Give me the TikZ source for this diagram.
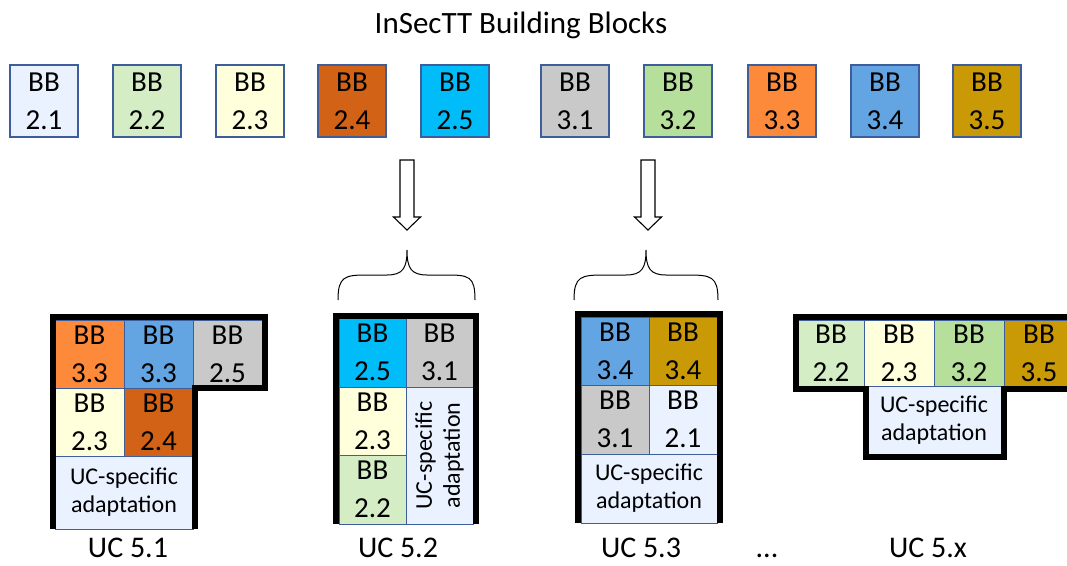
\documentclass[tikz,border=0pt]{standalone}
\usepackage{fontspec}
\setmainfont{Carlito}

\definecolor{bbline}{HTML}{3E5E9B}
\definecolor{c21}{HTML}{EAF1FF}
\definecolor{c22}{HTML}{D5EDC5}
\definecolor{c23}{HTML}{FFFFDC}
\definecolor{c24}{HTML}{D26215}
\definecolor{c25}{HTML}{00BCF8}
\definecolor{c31}{HTML}{C9C9C9}
\definecolor{c32}{HTML}{B6DF9B}
\definecolor{c33}{HTML}{FD8A3B}
\definecolor{c34}{HTML}{62A5E2}
\definecolor{c35}{HTML}{C99A05}

\newcommand{\bbsize}{\fontsize{29}{38}\selectfont}
\newcommand{\adaptsize}{\fontsize{24}{28}\selectfont}

\tikzset{
	bbtop/.style={draw=bbline, line width=1.8pt, minimum width=68pt, minimum height=72pt,
		inner sep=0pt, align=center, font=\bbsize},
	cell/.style={draw=bbline, line width=1pt, inner sep=0pt, outer sep=0pt,
		align=center, font=\bbsize},
	adapt/.style={cell, fill=c21, font=\adaptsize},
	ucframe/.style={line width=6pt, line join=miter},
	hollow/.style={draw, line width=1.1pt, fill=white, line join=miter},
	brace/.style={line width=1pt},
	uclabel/.style={anchor=base, inner sep=0pt, font=\fontsize{30}{36}\selectfont},
}

\begin{document}
\begin{tikzpicture}[x=1pt, y=-1pt]
	\clip (0, 0) rectangle (1067, 565);

	\node[anchor=base, inner sep=0pt, font=\fontsize{31}{36}\selectfont] (title) at (521, 33) {InSecTT Building Blocks};

	% building blocks
	\node[bbtop, fill=c21] (b21) at (44, 101) {BB\\2.1};
	\node[bbtop, fill=c22] (b22) at (147, 101) {BB\\2.2};
	\node[bbtop, fill=c23] (b23) at (250, 101) {BB\\2.3};
	\node[bbtop, fill=c24] (b24) at (352, 101) {BB\\2.4};
	\node[bbtop, fill=c25] (b25) at (455, 101) {BB\\2.5};
	\node[bbtop, fill=c31] (b31) at (575, 101) {BB\\3.1};
	\node[bbtop, fill=c32] (b32) at (678, 101) {BB\\3.2};
	\node[bbtop, fill=c33] (b33) at (782, 101) {BB\\3.3};
	\node[bbtop, fill=c34] (b34) at (885, 101) {BB\\3.4};
	\node[bbtop, fill=c35] (b35) at (987, 101) {BB\\3.5};

	% hollow arrows
	\foreach \x in {407, 648} {
		\draw[hollow] (\x-7, 160) -- (\x+7, 160) -- (\x+7, 217) -- (\x+13.5, 217)
			-- (\x, 230) -- (\x-13.5, 217) -- (\x-7, 217) -- cycle;
	}

	% braces
	\draw[brace] (338, 300) .. controls (338, 276) and (345, 275) .. (368, 275) -- (387, 275)
		.. controls (403, 275) and (407, 268) .. (407, 250)
		.. controls (407, 268) and (411, 275) .. (427, 275) -- (446, 275)
		.. controls (469, 275) and (475, 276) .. (475, 300);
	\draw[brace] (574, 300) .. controls (574, 276) and (581, 275) .. (605, 275) -- (626, 275)
		.. controls (642, 275) and (646, 268) .. (646, 250)
		.. controls (646, 268) and (650, 275) .. (666, 275) -- (687, 275)
		.. controls (711, 275) and (718, 276) .. (718, 300);

	% UC 5.1
	\begin{scope}[cell/.append style={minimum width=69pt, minimum height=68pt}]
		\node[cell, fill=c33] (u1a) at (89.5, 354) {BB\\3.3};
		\node[cell, fill=c34] (u1b) at (158.5, 354) {BB\\3.3};
		\node[cell, fill=c31] (u1c) at (227.5, 354) {BB\\2.5};
		\node[cell, fill=c23] (u1d) at (89.5, 422) {BB\\2.3};
		\node[cell, fill=c24] (u1e) at (158.5, 422) {BB\\2.4};
	\end{scope}
	\node[adapt, minimum width=138pt, minimum height=73pt] (u1f) at (124, 492.5) {UC-specific\\adaptation};
	\draw[ucframe] (52.5, 529) -- (52.5, 316.5) -- (264.5, 316.5) -- (264.5, 388)
		-- (195, 388) -- (195, 529);
	\node[uclabel] (uc1) at (128, 557) {UC 5.1};

	% UC 5.2
	\begin{scope}[cell/.append style={minimum width=67pt, minimum height=68.5pt}]
		\node[cell, fill=c25] (u2a) at (372.5, 352.75) {BB\\2.5};
		\node[cell, fill=c31] (u2b) at (439.5, 352.75) {BB\\3.1};
		\node[cell, fill=c23] (u2c) at (372.5, 421.25) {BB\\2.3};
		\node[cell, fill=c22] (u2d) at (372.5, 489.75) {BB\\2.2};
	\end{scope}
	\node[adapt, rotate=90, minimum width=137pt, minimum height=67pt] (u2e) at (439.5, 455.5) {UC-specific\\adaptation};
	\draw[ucframe] (336, 524) -- (336, 316) -- (475.5, 316) -- (475.5, 524);
	\node[uclabel] (uc2) at (398, 557) {UC 5.2};

	% UC 5.3
	\begin{scope}[cell/.append style={minimum width=68pt, minimum height=68.5pt}]
		\node[cell, fill=c34] (u3a) at (615, 351.25) {BB\\3.4};
		\node[cell, fill=c35] (u3b) at (683, 351.25) {BB\\3.4};
		\node[cell, fill=c31] (u3c) at (615, 419.75) {BB\\3.1};
		\node[cell, fill=c21] (u3d) at (683, 419.75) {BB\\2.1};
	\end{scope}
	\node[adapt, minimum width=136pt, minimum height=69pt] (u3e) at (649, 488.5) {UC-specific\\adaptation};
	\draw[ucframe] (577.5, 523) -- (577.5, 313.5) -- (719.5, 313.5) -- (719.5, 523);
	\node[uclabel] (uc3) at (641, 557) {UC 5.3};

	\node[uclabel] (dots) at (767, 557) {...};

	% UC 5.x
	\begin{scope}[cell/.append style={minimum width=70pt, minimum height=66pt}]
		\node[cell, fill=c22, minimum width=66pt] (uxa) at (831, 353) {BB\\2.2};
		\node[cell, fill=c23] (uxb) at (899, 353) {BB\\2.3};
		\node[cell, fill=c32] (uxc) at (969, 353) {BB\\3.2};
		\node[cell, fill=c35] (uxd) at (1039, 353) {BB\\3.5};
	\end{scope}
	\node[adapt, minimum width=140pt, minimum height=68pt] (uxe) at (934, 420) {UC-specific\\adaptation};
	\draw[ucframe] (1080, 389) -- (1003.5, 389) -- (1003.5, 457) -- (865.5, 457)
		-- (865.5, 389) -- (795.5, 389) -- (795.5, 316.5) -- (1080, 316.5);
	\node[uclabel] (ucx) at (928, 557) {UC 5.x};
\end{tikzpicture}
\end{document}
